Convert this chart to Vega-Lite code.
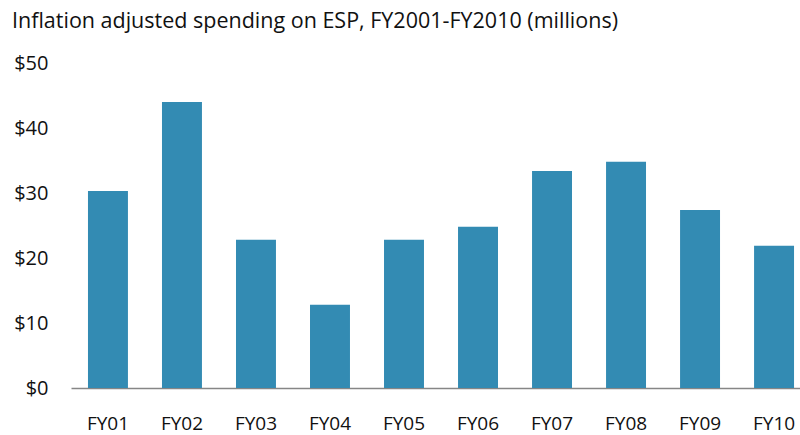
{
  "$schema": "https://vega.github.io/schema/vega-lite/v6.json",
  "autosize": {"type": "none"},
  "padding": {"left": 71, "top": 63, "right": 0, "bottom": 47},
  "width": 729,
  "height": 325,
  "background": "white",
  "title": {
    "text": "Inflation adjusted spending on ESP, FY2001-FY2010 (millions)",
    "anchor": "start",
    "frame": "group",
    "dx": -59,
    "offset": 21,
    "font": "Open Sans",
    "fontSize": 21.5,
    "fontWeight": "normal",
    "color": "#111111"
  },
  "data": {
    "values": [
      {"year": "FY01", "spending": 30.3},
      {"year": "FY02", "spending": 44.0},
      {"year": "FY03", "spending": 22.8},
      {"year": "FY04", "spending": 12.8},
      {"year": "FY05", "spending": 22.8},
      {"year": "FY06", "spending": 24.8},
      {"year": "FY07", "spending": 33.4},
      {"year": "FY08", "spending": 34.8},
      {"year": "FY09", "spending": 27.4},
      {"year": "FY10", "spending": 21.9}
    ]
  },
  "mark": {"type": "bar", "color": "#338BB3"},
  "encoding": {
    "x": {
      "field": "year",
      "type": "ordinal",
      "sort": null,
      "scale": {"paddingInner": 0.46, "paddingOuter": 0.155, "align": 0.74},
      "axis": {
        "title": null,
        "labelAngle": 0,
        "ticks": false,
        "domainColor": "#868686",
        "domainWidth": 1.5,
        "labelPadding": 26,
        "labelFont": "Open Sans",
        "labelFontSize": 19,
        "labelColor": "#111111"
      }
    },
    "y": {
      "field": "spending",
      "type": "quantitative",
      "scale": {"domain": [0, 50]},
      "axis": {
        "title": null,
        "values": [0, 10, 20, 30, 40, 50],
        "format": "$.0f",
        "grid": false,
        "ticks": false,
        "domain": false,
        "labelPadding": 23,
        "labelFont": "Open Sans",
        "labelFontSize": 20,
        "labelColor": "#111111"
      }
    }
  },
  "config": {"view": {"stroke": null}}
}
